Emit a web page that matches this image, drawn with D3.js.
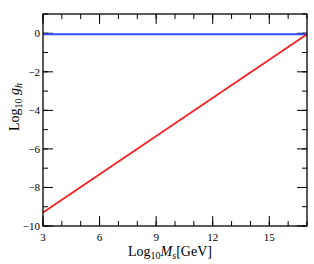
<html>
<head>
    <script src="https://d3js.org/d3.v7.min.js" charset="utf-8"></script>
    <style>
        body { margin: 0; background: white; }
        .axis-label { font-family: "Liberation Serif", serif; font-size: 14px; }
        .tick-label { font-family: "Liberation Serif", serif; font-size: 11px; }
    </style>
</head>
<body>
<div id="vis_container"></div>
<script>
    // values
    let xDomain = [3, 17];
    let yDomain = [-10, 1];
    let xTicks = [3, 6, 9, 12, 15];
    let yTicks = [-10, -8, -6, -4, -2, 0];
    let blueX = [3, 17];
    let blueY = [-0.05, -0.05];
    let redX = [3, 17];
    let redY = [-9.3, -0.05];

    let width = 314, height = 264;
    let mLeft = 43, mRight = 307, mTop = 14, mBottom = 226;

    let svg = d3.select("#vis_container").append("svg")
        .attr("width", width).attr("height", height);

    let x = d3.scaleLinear().domain(xDomain).range([mLeft, mRight]);
    let y = d3.scaleLinear().domain(yDomain).range([mBottom, mTop]);

    let minorX = d3.range(xDomain[0], xDomain[1] + 1, 1);
    let minorY = d3.range(yDomain[0], yDomain[1] + 1, 1);

    // ticks drawn inward on all four sides
    function ticks(g, vals, len, side) {
        vals.forEach(function(v) {
            let l = g.append("line").attr("stroke", "black").attr("stroke-width", 1);
            if (side == "bottom") l.attr("x1", x(v)).attr("x2", x(v)).attr("y1", mBottom).attr("y2", mBottom - len);
            if (side == "top") l.attr("x1", x(v)).attr("x2", x(v)).attr("y1", mTop).attr("y2", mTop + len);
            if (side == "left") l.attr("y1", y(v)).attr("y2", y(v)).attr("x1", mLeft).attr("x2", mLeft + len);
            if (side == "right") l.attr("y1", y(v)).attr("y2", y(v)).attr("x1", mRight).attr("x2", mRight - len);
        });
    }
    let tg = svg.append("g");
    ["bottom", "top"].forEach(function(s) {
        ticks(tg, minorX, 5, s);
        ticks(tg, xTicks, 10, s);
    });
    ["left", "right"].forEach(function(s) {
        ticks(tg, minorY, 5, s);
        ticks(tg, yTicks, 10, s);
    });

    let line = d3.line().x(function(d) { return x(d[0]); }).y(function(d) { return y(d[1]); });

    svg.append("path")
        .attr("d", line(blueX.map(function(v, i) { return [v, blueY[i]]; })))
        .attr("fill", "none").attr("stroke", "#3050ff").attr("stroke-width", 2.2);

    svg.append("path")
        .attr("d", line(redX.map(function(v, i) { return [v, redY[i]]; })))
        .attr("fill", "none").attr("stroke", "#ff1a1a").attr("stroke-width", 1.6);

    svg.append("rect")
        .attr("x", mLeft).attr("y", mTop).attr("width", mRight - mLeft).attr("height", mBottom - mTop)
        .attr("fill", "none").attr("stroke", "black").attr("stroke-width", 1.3);

    svg.selectAll(".xt").data(xTicks).enter().append("text")
        .attr("class", "tick-label")
        .attr("x", function(d) { return x(d); }).attr("y", mBottom + 15)
        .attr("text-anchor", "middle")
        .text(function(d) { return d; });

    svg.selectAll(".yt").data(yTicks).enter().append("text")
        .attr("class", "tick-label")
        .attr("x", mLeft - 3).attr("y", function(d) { return y(d) + 4; })
        .attr("text-anchor", "end")
        .text(function(d) { return d < 0 ? "\u2212" + (-d) : d; });

    let xl = svg.append("text").attr("class", "axis-label")
        .attr("x", 170).attr("y", 256).attr("text-anchor", "middle");
    xl.append("tspan").text("Log");
    xl.append("tspan").attr("font-size", "10px").attr("dy", 3).text("10");
    xl.append("tspan").attr("dy", -3).attr("font-style", "italic").text("M");
    xl.append("tspan").attr("font-size", "10px").attr("dy", 3).attr("font-style", "italic").text("s");
    xl.append("tspan").attr("dy", -3).text("[GeV]");

    let yl = svg.append("text").attr("class", "axis-label")
        .attr("transform", "translate(19,107) rotate(-90)").attr("text-anchor", "middle");
    yl.append("tspan").text("Log");
    yl.append("tspan").attr("font-size", "10px").attr("dy", 3).text("10");
    yl.append("tspan").attr("dy", -3).attr("font-style", "italic").text(" g");
    yl.append("tspan").attr("font-size", "10px").attr("dy", 3).attr("font-style", "italic").text("h");
</script>
</body>
</html>
